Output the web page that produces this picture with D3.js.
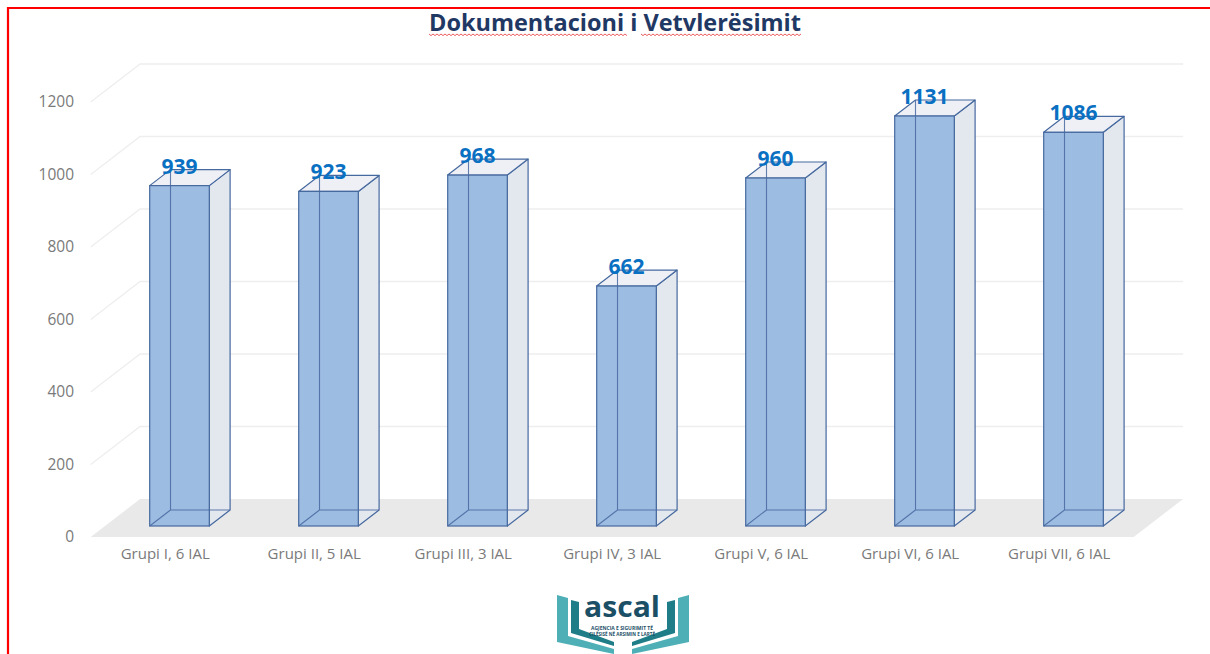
<!DOCTYPE html>
<html>
<head>
<meta charset="utf-8">
<script src="https://cdn.jsdelivr.net/npm/d3@7"></script>
<style>
  body { margin: 0; background: #fff; }
  svg { display: block; font-family: "Open Sans", sans-serif; }
</style>
</head>
<body>
<div id="viz"></div>
<script>
// data
var groups = ["Grupi I, 6 IAL", "Grupi II, 5 IAL", "Grupi III, 3 IAL", "Grupi IV, 3 IAL",
              "Grupi V, 6 IAL", "Grupi VI, 6 IAL", "Grupi VII, 6 IAL"];
var values = [939, 923, 968, 662, 960, 1131, 1086];
var yTicks = [0, 200, 400, 600, 800, 1000, 1200];
var title = "Dokumentacioni i Vetvlerësimit";

var W = 1210, H = 654,
    barStroke = "#46699f",
    frontFill = "#9dbce2",
    sideFill = "#e3e7ee",
    topFill = "#eef0f6",
    gridColor = "#eeeeee",
    floorColor = "#e9e9e9",
    labelColor = "#7a7a7a",
    valueColor = "#0a70c2";

// oblique depth: t px of depth -> dx = 1.3*t, dy = -t
function dep(t) { return [1.3 * t, -t]; }
var tFront = -11, tBack = 27, tBar = 16;

var svg = d3.select("#viz").append("svg")
    .attr("width", W).attr("height", H);

// red frame
svg.append("path")
    .attr("d", "M8,654 L8,8 L1210,8")
    .attr("fill", "none")
    .attr("stroke", "#ff0000")
    .attr("stroke-width", 2.2);

var x = d3.scaleBand().domain(groups).range([105, 1148]).paddingInner(0.6).paddingOuter(0.3);
var y = d3.scaleLinear().domain([0, 1200]).range([526, 91]);

var x0 = x.range()[0], x1 = x.range()[1];
var F = dep(tFront), B = dep(tBack), D = dep(tBar);

function pts(a) { return a.map(function(p) { return p.join(","); }).join(" "); }

// floor
svg.append("polygon")
    .attr("points", pts([[x0 + F[0], y(0) + F[1]], [x1 + F[0], y(0) + F[1]],
                         [x1 + B[0], y(0) + B[1]], [x0 + B[0], y(0) + B[1]]]))
    .attr("fill", floorColor);

// grid lines: left wall diagonal + back wall
var grid = svg.append("g").attr("class", "grid");
grid.selectAll(".gl").data(yTicks.slice(1)).enter().append("path")
    .attr("d", function(d) {
      return "M" + (x0 + F[0]) + "," + (y(d) + F[1]) +
             "L" + (x0 + B[0]) + "," + (y(d) + B[1]) +
             "L" + (x1 + B[0]) + "," + (y(d) + B[1]);
    })
    .attr("fill", "none")
    .attr("stroke", gridColor)
    .attr("stroke-width", 1.3);

// y axis labels (front plane)
var yAxis = d3.axisLeft(y).tickValues(yTicks).tickFormat(d3.format("d")).tickSize(0).tickPadding(0);
var ya = svg.append("g")
    .attr("transform", "translate(74," + F[1] + ")")
    .call(yAxis);
ya.select(".domain").remove();
ya.selectAll("text")
    .attr("fill", labelColor)
    .style("font-size", "15.5px")
    .style("font-family", "'Open Sans', sans-serif");

// x axis labels
var xAxis = d3.axisBottom(x).tickSize(0).tickPadding(0);
var xa = svg.append("g")
    .attr("transform", "translate(" + F[0] + "," + (y(0) + 22) + ")")
    .call(xAxis);
xa.select(".domain").remove();
xa.selectAll("text")
    .attr("fill", labelColor)
    .style("font-size", "15px")
    .style("font-family", "'Open Sans', sans-serif");

// bars
var data = groups.map(function(g, i) { return { g: g, v: values[i] }; });
var bars = svg.selectAll(".bar").data(data).enter().append("g").attr("class", "bar");

bars.append("polygon") // right side
    .attr("points", function(d) {
      var l = x(d.g) + x.bandwidth(), t = y(d.v), b = y(0);
      return pts([[l, t], [l + D[0], t + D[1]], [l + D[0], b + D[1]], [l, b]]);
    })
    .attr("fill", sideFill).attr("stroke", barStroke).attr("stroke-width", 1.2)
    .attr("stroke-linejoin", "round");

bars.append("polygon") // top
    .attr("points", function(d) {
      var l = x(d.g), r = l + x.bandwidth(), t = y(d.v);
      return pts([[l, t], [r, t], [r + D[0], t + D[1]], [l + D[0], t + D[1]]]);
    })
    .attr("fill", topFill).attr("stroke", barStroke).attr("stroke-width", 1.2)
    .attr("stroke-linejoin", "round");

bars.append("rect") // front
    .attr("x", function(d) { return x(d.g); })
    .attr("y", function(d) { return y(d.v); })
    .attr("width", x.bandwidth())
    .attr("height", function(d) { return y(0) - y(d.v); })
    .attr("fill", frontFill)
    .attr("stroke", barStroke).attr("stroke-width", 1.2);

bars.append("path") // hidden back edges, seen through the front
    .attr("d", function(d) {
      var l = x(d.g), r = l + x.bandwidth(), t = y(d.v), b = y(0);
      return "M" + (l + D[0]) + "," + (t + D[1]) + "L" + (l + D[0]) + "," + (b + D[1]) +
             "L" + (r + D[0]) + "," + (b + D[1]) +
             "M" + l + "," + b + "L" + (l + D[0]) + "," + (b + D[1]);
    })
    .attr("fill", "none").attr("stroke", barStroke).attr("stroke-width", 1.1)
    .attr("stroke-opacity", 0.85);

// value labels
bars.append("text")
    .attr("x", function(d) { return x(d.g) + x.bandwidth() / 2; })
    .attr("y", function(d) { return y(d.v) - 12; })
    .attr("text-anchor", "middle")
    .attr("fill", valueColor)
    .style("font-size", "21px")
    .style("font-weight", "bold")
    .text(function(d) { return d.v; });

// title
svg.append("text")
    .attr("x", 615).attr("y", 31)
    .attr("text-anchor", "middle")
    .attr("fill", "#1f3864")
    .attr("textLength", 372).attr("lengthAdjust", "spacingAndGlyphs")
    .style("font-size", "23px")
    .style("font-weight", "bold")
    .text(title);

// spell-check squiggles under the title
function squiggle(a, b, yy) {
  var d = "M" + a + "," + yy;
  for (var xx = a + 2, k = 0; xx <= b; xx += 2, k++) d += "L" + xx + "," + (yy + (k % 2 ? 0 : 1.6));
  return d;
}
svg.append("path").attr("d", squiggle(429, 628, 34) + squiggle(641, 802, 34))
    .attr("fill", "none").attr("stroke", "#e84b4b").attr("stroke-width", 0.9);

// logo
var logo = svg.append("g").attr("class", "logo");
var leftOuter = [[557, 595], [568, 598], [568, 636], [614, 649], [614, 654], [557, 642]];
var leftInner = [[571, 600], [579, 602], [579, 629], [614, 642], [614, 646], [571, 633]];
function mirror(a) { return a.map(function(p) { return [1246 - p[0], p[1]]; }); }
[leftOuter, mirror(leftOuter)].forEach(function(p) {
  logo.append("polygon").attr("points", pts(p)).attr("fill", "#4eb0b6");
});
[leftInner, mirror(leftInner)].forEach(function(p) {
  logo.append("polygon").attr("points", pts(p)).attr("fill", "#1e7d86");
});
logo.append("text")
    .attr("x", 622).attr("y", 617)
    .attr("text-anchor", "middle")
    .attr("fill", "#1b4f66")
    .attr("textLength", 76).attr("lengthAdjust", "spacingAndGlyphs")
    .style("font-size", "28px").style("font-weight", "bold")
    .text("ascal");
logo.append("text")
    .attr("x", 622).attr("y", 630)
    .attr("text-anchor", "middle").attr("fill", "#1b4f66")
    .attr("textLength", 62).attr("lengthAdjust", "spacingAndGlyphs")
    .style("font-size", "4.5px").style("font-weight", "bold")
    .text("AGJENCIA E SIGURIMIT TË");
logo.append("text")
    .attr("x", 622).attr("y", 636)
    .attr("text-anchor", "middle").attr("fill", "#1b4f66")
    .attr("textLength", 66).attr("lengthAdjust", "spacingAndGlyphs")
    .style("font-size", "4.5px").style("font-weight", "bold")
    .text("CILËSISË NË ARSIMIN E LARTË");
</script>
</body>
</html>
